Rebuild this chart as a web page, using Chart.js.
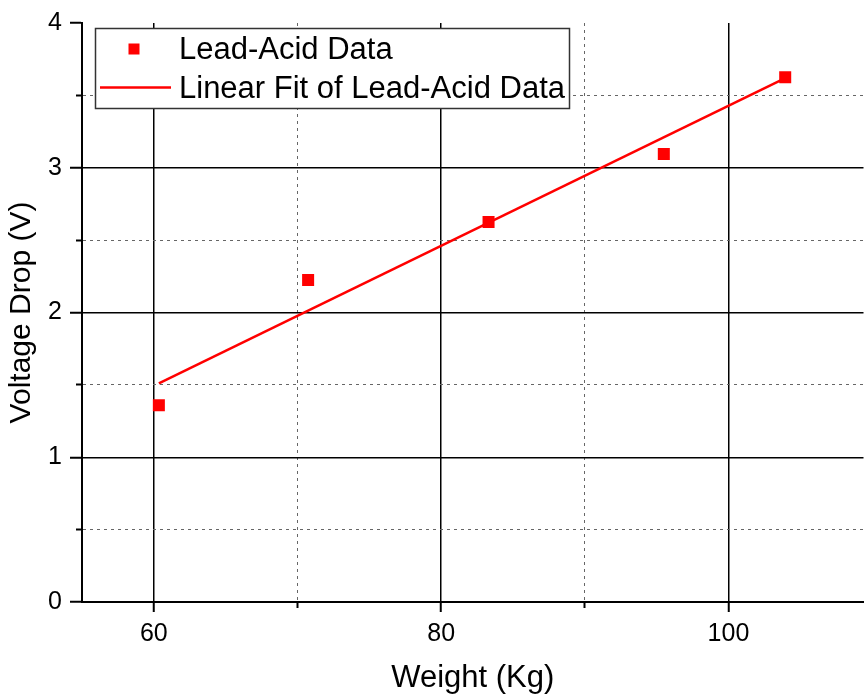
<!DOCTYPE html>
<html>
<head>
<meta charset="utf-8">
<script src="https://cdn.jsdelivr.net/npm/chart.js@4/dist/chart.umd.min.js"></script>
<style>
  html, body { margin: 0; padding: 0; background: #fff; overflow: hidden; }
  /* plot frame runs past the right edge of the window, as in the original */
  #wrap { width: 872px; height: 697px; }
</style>
</head>
<body>
<div id="wrap"><canvas id="voltageChart"></canvas></div>
<script>
// values
const weightKg = [60.35, 70.74, 83.3, 95.5, 103.95];
const voltageDrop = [1.36, 2.225, 2.625, 3.095, 3.625];
// fitted line end points as drawn
const fitWeight = [60.35, 103.95];
const fitVoltage = [1.51, 3.62];

const xTicks = [60, 70, 80, 90, 100];
const xMajor = [60, 80, 100];
const yTicks = [0, 0.5, 1, 1.5, 2, 2.5, 3, 3.5, 4];
const yMajor = [0, 1, 2, 3, 4];

const FONT = '"Liberation Sans", Arial, sans-serif';
const RED = '#ff0000';

const isMajor = (list, v) => list.some(m => Math.abs(m - v) < 1e-6);

// legend box drawn inside the plot, top-left
const insideLegend = {
  id: 'insideLegend',
  afterDraw(chart) {
    const ctx = chart.ctx;
    ctx.save();
    ctx.fillStyle = '#fff';
    ctx.fillRect(95.5, 28.5, 474, 80);
    ctx.strokeStyle = '#333';
    ctx.lineWidth = 1.5;
    ctx.strokeRect(95.5, 28.5, 474, 80);

    ctx.fillStyle = RED;
    ctx.fillRect(128.5, 43.5, 11, 11);
    ctx.strokeStyle = RED;
    ctx.lineWidth = 2.5;
    ctx.beginPath();
    ctx.moveTo(100, 87.5);
    ctx.lineTo(171, 87.5);
    ctx.stroke();

    ctx.fillStyle = '#000';
    ctx.font = '31px ' + FONT;
    ctx.textBaseline = 'middle';
    ctx.fillText(chart.data.datasets[0].label, 179, 50);
    ctx.fillText(chart.data.datasets[1].label, 179, 89);
    ctx.restore();
  }
};

const ctx = document.getElementById('voltageChart').getContext('2d');
const voltageChart = new Chart(ctx, {
  type: 'scatter',
  data: {
    datasets: [
      {
        label: 'Lead-Acid Data',
        data: weightKg.map((w, i) => ({ x: w, y: voltageDrop[i] })),
        pointStyle: 'rect',
        pointRadius: 8.5,
        pointHoverRadius: 8.5,
        backgroundColor: RED,
        borderColor: RED,
        borderWidth: 0,
        showLine: false,
        order: 1
      },
      {
        label: 'Linear Fit of Lead-Acid Data',
        data: fitWeight.map((w, i) => ({ x: w, y: fitVoltage[i] })),
        showLine: true,
        borderColor: RED,
        borderWidth: 2.5,
        pointRadius: 0,
        fill: false,
        order: 2
      }
    ]
  },
  options: {
    responsive: true,
    maintainAspectRatio: false,
    animation: false,
    layout: { padding: { top: 20, left: 0, right: 0, bottom: 0 } },
    plugins: {
      legend: { display: false },
      tooltip: { enabled: false }
    },
    scales: {
      x: {
        type: 'linear',
        min: 55,
        max: 109.4,
        afterBuildTicks: scale => { scale.ticks = xTicks.map(v => ({ value: v })); },
        afterFit: scale => { scale.height = 95; },
        ticks: {
          color: '#000',
          font: { family: FONT, size: 25 },
          padding: 7,
          maxRotation: 0,
          callback: v => isMajor(xMajor, v) ? String(v) : ''
        },
        grid: {
          color: c => isMajor(xMajor, c.tick.value) ? '#000' : '#666',
          lineWidth: c => isMajor(xMajor, c.tick.value) ? 1.5 : 1,
          tickColor: '#000',
          tickWidth: 2,
          tickLength: 10,
          tickBorderDash: c => isMajor(xMajor, c.tick.value) ? [] : [5, 10]
        },
        border: {
          display: true,
          color: '#000',
          width: 2,
          dash: c => (c.tick && !isMajor(xMajor, c.tick.value)) ? [3, 4] : []
        },
        title: {
          display: true,
          text: 'Weight (Kg)',
          color: '#000',
          font: { family: FONT, size: 31 },
          padding: { top: 4, bottom: 0 }
        }
      },
      y: {
        type: 'linear',
        min: 0,
        max: 4,
        afterBuildTicks: scale => { scale.ticks = yTicks.map(v => ({ value: v })); },
        afterFit: scale => { scale.width = 82; },
        ticks: {
          color: '#000',
          font: { family: FONT, size: 25 },
          padding: 8,
          callback: v => isMajor(yMajor, v) ? String(v) : ''
        },
        grid: {
          color: c => {
            const v = c.tick.value;
            if (v === 0 || v === 4) return 'rgba(0,0,0,0)';
            return isMajor(yMajor, v) ? '#000' : '#666';
          },
          lineWidth: c => isMajor(yMajor, c.tick.value) ? 1.5 : 1,
          tickColor: '#000',
          tickWidth: 2,
          tickLength: 12,
          tickBorderDash: c => isMajor(yMajor, c.tick.value) ? [] : [6, 6],
          tickBorderDashOffset: c => isMajor(yMajor, c.tick.value) ? 0 : 6
        },
        border: {
          display: true,
          color: '#000',
          width: 2,
          dash: c => (c.tick && !isMajor(yMajor, c.tick.value)) ? [3, 4] : []
        },
        title: {
          display: true,
          text: 'Voltage Drop (V)',
          color: '#000',
          font: { family: FONT, size: 30 },
          padding: { top: 4, bottom: 0 }
        }
      }
    }
  },
  plugins: [insideLegend]
});
</script>
</body>
</html>
